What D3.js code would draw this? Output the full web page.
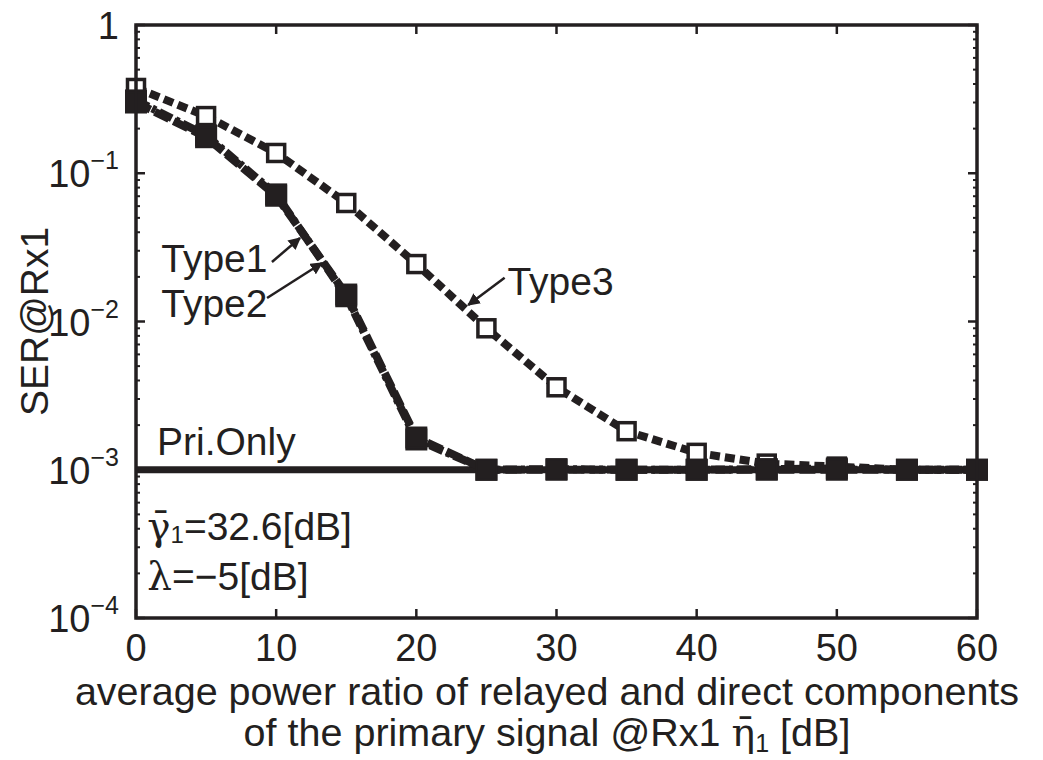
<!DOCTYPE html>
<html>
<head>
<meta charset="utf-8">
<script src="https://cdn.jsdelivr.net/npm/d3@7"></script>
<style>
  html, body { margin: 0; padding: 0; background: #fff; }
  svg { display: block; font-family: "Liberation Sans", Arial, Helvetica, sans-serif; }
</style>
</head>
<body>
<svg id="chart" width="1043" height="760"></svg>
<script>
// x values: average power ratio eta_1 [dB]
const ratioDb = [0, 5, 10, 15, 20, 25, 30, 35, 40, 45, 50, 55, 60];
// SER at Rx1 for each relaying type
const type1 = [0.300, 0.175, 0.0705, 0.0152, 0.00165, 0.00100, 0.00100, 0.00100, 0.00100, 0.00100, 0.00100, 0.00100, 0.00100];
const type2 = [0.310, 0.180, 0.0720, 0.0148, 0.00160, 0.00100, 0.00101, 0.00100, 0.00100, 0.00101, 0.00102, 0.00100, 0.00100];
const type3 = [0.376, 0.243, 0.137, 0.063, 0.0244, 0.0090, 0.0036, 0.00182, 0.00130, 0.00110, 0.00105, 0.00100, 0.00100];
// primary-only reference level
const priOnly = 0.001;

const xTicks = [0, 10, 20, 30, 40, 50, 60];
const yTicks = [1e-4, 1e-3, 1e-2, 1e-1, 1];
const yTickLabels = [["10", "\u22124"], ["10", "\u22123"], ["10", "\u22122"], ["10", "\u22121"], ["1", ""]];

const ink = "#231f20";
const svg = d3.select("#chart");
const m = { left: 136, right: 977, top: 25, bottom: 618 };

const x = d3.scaleLinear().domain([0, 60]).range([m.left, m.right]);
const y = d3.scaleLog().domain([1e-4, 1]).range([m.bottom, m.top]);

// minor ticks (log decades) on left and right edges
const minor = [];
for (let e = -4; e < 0; e++) for (let k = 2; k <= 9; k++) minor.push(k * Math.pow(10, e));

const axisG = svg.append("g").attr("stroke", ink);
minor.forEach(v => {
  axisG.append("line").attr("x1", m.left).attr("x2", m.left + 4)
    .attr("y1", y(v)).attr("y2", y(v)).attr("stroke-width", 2);
  axisG.append("line").attr("x1", m.right).attr("x2", m.right - 4)
    .attr("y1", y(v)).attr("y2", y(v)).attr("stroke-width", 2);
});
yTicks.forEach(v => {
  axisG.append("line").attr("x1", m.left).attr("x2", m.left + 9)
    .attr("y1", y(v)).attr("y2", y(v)).attr("stroke-width", 2.5);
  axisG.append("line").attr("x1", m.right).attr("x2", m.right - 9)
    .attr("y1", y(v)).attr("y2", y(v)).attr("stroke-width", 2.5);
});
xTicks.forEach(v => {
  axisG.append("line").attr("x1", x(v)).attr("x2", x(v))
    .attr("y1", m.bottom).attr("y2", m.bottom - 9).attr("stroke-width", 2.5);
  axisG.append("line").attr("x1", x(v)).attr("x2", x(v))
    .attr("y1", m.top).attr("y2", m.top + 9).attr("stroke-width", 2.5);
});

// x tick labels
svg.append("g").selectAll("text").data(xTicks).join("text")
  .attr("x", d => x(d)).attr("y", m.bottom + 43)
  .attr("text-anchor", "middle").attr("font-size", 38).attr("fill", ink)
  .text(d => d);

// y tick labels with exponents
const yl = svg.append("g");
yTicks.forEach((v, i) => {
  const [base, exp] = yTickLabels[i];
  const t = yl.append("text").attr("x", m.left - 17).attr("y", y(v) + 14)
    .attr("text-anchor", "end").attr("font-size", 38).attr("fill", ink);
  if (exp) {
    t.append("tspan").text(base);
    t.append("tspan").attr("font-size", 25).attr("dy", -18).text(exp);
  } else {
    t.text(base);
  }
});

// axis titles
svg.append("text").attr("transform", `translate(48,${(m.top + m.bottom) / 2}) rotate(-90)`)
  .attr("text-anchor", "middle").attr("font-size", 39).attr("fill", ink).text("SER@Rx1");

svg.append("text").attr("x", 547).attr("y", 705).attr("text-anchor", "middle")
  .attr("font-size", 39.5).attr("fill", ink)
  .text("average power ratio of relayed and direct components");
const xl2 = svg.append("text").attr("x", 547).attr("y", 746).attr("text-anchor", "middle")
  .attr("font-size", 39.5).attr("fill", ink);
xl2.append("tspan").text("of the primary signal @Rx1 ");
xl2.append("tspan").attr("font-family", "'DejaVu Serif', 'Liberation Serif', serif")
  .text("\u03b7\u0304");
xl2.append("tspan").attr("font-size", 25).attr("dy", 6).text("1");
xl2.append("tspan").attr("dy", -6).text(" [dB]");

const plot = svg.append("g");

// primary-only reference
plot.append("line").attr("x1", x(0)).attr("x2", x(60))
  .attr("y1", y(priOnly)).attr("y2", y(priOnly))
  .attr("stroke", ink).attr("stroke-width", 7);

const line = d3.line().x((d, i) => x(ratioDb[i])).y(d => y(d));

plot.append("path").datum(type3).attr("d", line).attr("fill", "none")
  .attr("stroke", ink).attr("stroke-width", 8).attr("stroke-dasharray", "10,5");
plot.append("path").datum(type2).attr("d", line).attr("fill", "none")
  .attr("stroke", ink).attr("stroke-width", 8).attr("stroke-dasharray", "14,4,4,4");
plot.append("path").datum(type1).attr("d", line).attr("fill", "none")
  .attr("stroke", ink).attr("stroke-width", 8).attr("stroke-dasharray", "16,5");

// markers
const drawSquares = (vals, size, fill, sw) => {
  plot.append("g").selectAll("rect").data(vals).join("rect")
    .attr("x", (d, i) => x(ratioDb[i]) - size / 2)
    .attr("y", d => y(d) - size / 2)
    .attr("width", size).attr("height", size)
    .attr("fill", fill).attr("stroke", ink).attr("stroke-width", sw);
};
drawSquares(type3, 17, "#fff", 3.5);
drawSquares(type2, 20, ink, 2);
drawSquares(type1, 20, ink, 2);

// frame
svg.append("rect").attr("x", m.left).attr("y", m.top)
  .attr("width", m.right - m.left).attr("height", m.bottom - m.top)
  .attr("fill", "none").attr("stroke", ink).attr("stroke-width", 3.5);

// annotations
svg.append("defs").append("marker").attr("id", "arrowHead")
  .attr("viewBox", "0 0 10 10").attr("refX", 9).attr("refY", 5)
  .attr("markerWidth", 5).attr("markerHeight", 5).attr("orient", "auto")
  .append("path").attr("d", "M0,0 L10,5 L0,10 Z").attr("fill", ink);

const ann = svg.append("g").attr("fill", ink).attr("font-size", 39);
const label = (tx, ty, txt) => ann.append("text").attr("x", x(tx)).attr("y", y(ty)).text(txt);
const arrow = (x1, y1, x2, y2) => ann.append("line")
  .attr("x1", x(x1)).attr("y1", y(y1)).attr("x2", x(x2)).attr("y2", y(y2))
  .attr("stroke", ink).attr("stroke-width", 2.5).attr("marker-end", "url(#arrowHead)");

label(1.8, 0.0216, "Type1");
label(1.8, 0.0107, "Type2");
label(26.5, 0.0151, "Type3");
arrow(9.7, 0.0252, 11.7, 0.0366);
arrow(9.35, 0.0144, 13.27, 0.0248);
arrow(26.3, 0.0197, 23.7, 0.0129);
label(1.5, 0.00126, "Pri.Only");

const g1 = ann.append("text").attr("x", x(0.8)).attr("y", y(3.36e-4));
g1.append("tspan").attr("font-family", "'DejaVu Serif', 'Liberation Serif', serif")
  .text("\u03b3\u0304");
g1.append("tspan").attr("font-size", 24).attr("dy", 3).text("1");
g1.append("tspan").attr("dy", -3).text("=32.6[dB]");

const l1 = ann.append("text").attr("x", x(0.8)).attr("y", y(1.54e-4));
l1.append("tspan").attr("font-family", "'DejaVu Serif', 'Liberation Serif', serif").text("\u03bb");
l1.append("tspan").text("=\u22125[dB]");
</script>
</body>
</html>
